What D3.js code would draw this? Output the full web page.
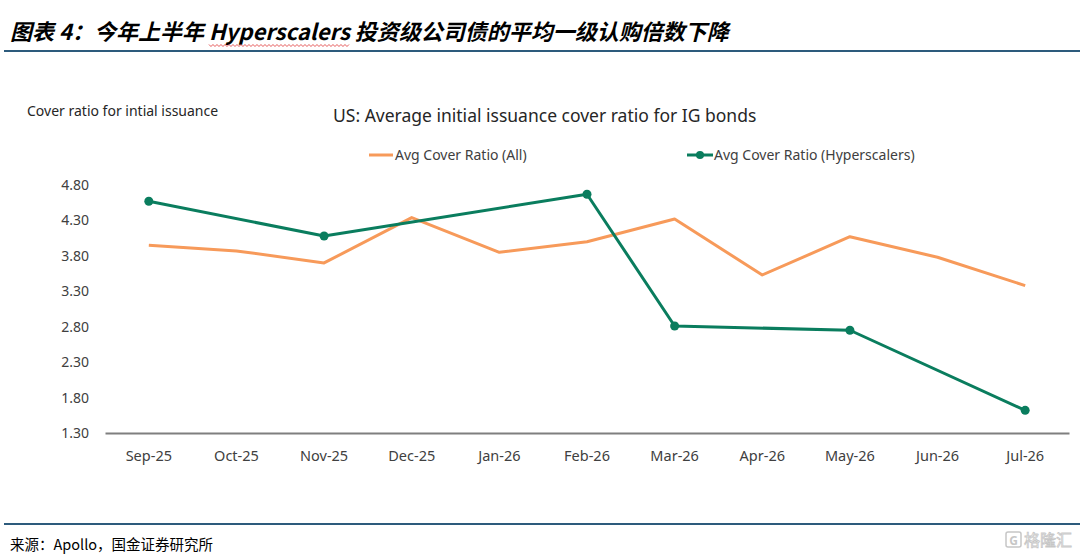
<!DOCTYPE html>
<html>
<head>
<meta charset="utf-8">
<script src="https://cdn.jsdelivr.net/npm/d3@7"></script>
<style>
  body { margin: 0; background: #fff; }
  text { font-family: "Noto Sans", "Open Sans", sans-serif; }
</style>
</head>
<body>
<script>
// chart data
var months = ["Sep-25", "Oct-25", "Nov-25", "Dec-25", "Jan-26", "Feb-26",
              "Mar-26", "Apr-26", "May-26", "Jun-26", "Jul-26"];
var allRatio = [3.95, 3.87, 3.70, 4.34, 3.85, 4.00, 4.32, 3.53, 4.07, 3.78, 3.38];
var hyperRatio = [4.57, null, 4.08, null, null, 4.67, 2.81, null, 2.75, null, 1.62];
var yTicks = [1.30, 1.80, 2.30, 2.80, 3.30, 3.80, 4.30, 4.80];

var w = 1080, h = 556;
var orange = "#f79a5a", green = "#0a7d5e";

var svg = d3.select("body").append("svg")
    .attr("width", w)
    .attr("height", h);

// report title + rule
var title = svg.append("text")
    .attr("x", 10).attr("y", 40)
    .style("font-family", "'Noto Sans CJK SC', sans-serif")
    .style("font-weight", "bold")
    .style("font-style", "italic")
    .style("font-size", "22px")
    .attr("fill", "#000")
    .text("图表 4：今年上半年 Hyperscalers 投资级公司债的平均一级认购倍数下降");

// red spell-check squiggle under "Hyperscalers"
var full = title.text(), word = "Hyperscalers";
var start = full.indexOf(word);
var node = title.node();
var x0 = 10 + node.getSubStringLength(0, start);
var x1 = x0 + node.getSubStringLength(start, word.length);
var wave = [];
for (var x = x0; x <= x1; x += 2) wave.push([x, 45 + ((Math.round((x - x0) / 2) % 2) ? 1.5 : -0.5)]);
svg.append("path")
    .attr("d", d3.line()(wave))
    .attr("fill", "none")
    .attr("stroke", "#e03030")
    .attr("stroke-width", 0.8);

svg.append("line")
    .attr("x1", 4).attr("x2", w).attr("y1", 51).attr("y2", 51)
    .attr("stroke", "#2d5b7c").attr("stroke-width", 2);

// chart texts
svg.append("text")
    .attr("x", 27).attr("y", 116)
    .style("font-size", "14px")
    .attr("fill", "#262626")
    .text("Cover ratio for intial issuance");

svg.append("text")
    .attr("x", 333).attr("y", 122)
    .style("font-size", "17.5px")
    .attr("fill", "#262626")
    .text("US: Average initial issuance cover ratio for IG bonds");

// scales
var x = d3.scaleBand().domain(months).range([105, 1069]);
var y = d3.scaleLinear().domain([1.3, 4.8]).range([433, 185]);
var cx = function(m){ return x(m) + x.bandwidth() / 2; };

// axes
var yAxis = svg.append("g")
    .attr("transform", "translate(105,0)")
    .call(d3.axisLeft(y).tickValues(yTicks).tickFormat(d3.format(".2f")).tickSize(0).tickPadding(16));
yAxis.select(".domain").remove();
yAxis.selectAll("text")
    .style("font-family", "'Noto Sans', sans-serif")
    .style("font-size", "14px")
    .attr("fill", "#404040");

var xAxis = svg.append("g")
    .attr("transform", "translate(0,433)")
    .call(d3.axisBottom(x).tickSize(0).tickSizeOuter(0).tickPadding(18));
xAxis.select(".domain")
    .attr("stroke", "#7f7f7f")
    .attr("stroke-width", 2);
xAxis.selectAll("text")
    .style("font-family", "'Noto Sans', sans-serif")
    .style("font-size", "14.5px")
    .attr("fill", "#404040");

// lines
var line = d3.line()
    .x(function(d){ return cx(d.m); })
    .y(function(d){ return y(d.v); });

var allData = months.map(function(m, i){ return {m: m, v: allRatio[i]}; });
var hyperData = months.map(function(m, i){ return {m: m, v: hyperRatio[i]}; })
    .filter(function(d){ return d.v !== null; });

svg.append("path")
    .datum(allData)
    .attr("d", line)
    .attr("fill", "none")
    .attr("stroke", orange)
    .attr("stroke-width", 3)
    .attr("stroke-linejoin", "round");

svg.append("path")
    .datum(hyperData)
    .attr("d", line)
    .attr("fill", "none")
    .attr("stroke", green)
    .attr("stroke-width", 3)
    .attr("stroke-linejoin", "round");

svg.selectAll(".dot")
    .data(hyperData)
    .enter().append("circle")
    .attr("class", "dot")
    .attr("cx", function(d){ return cx(d.m); })
    .attr("cy", function(d){ return y(d.v); })
    .attr("r", 4.5)
    .attr("fill", green);

// legend
var legend = svg.append("g");
legend.append("line")
    .attr("x1", 369).attr("x2", 393).attr("y1", 155).attr("y2", 155)
    .attr("stroke", orange).attr("stroke-width", 3);
legend.append("text")
    .attr("x", 395).attr("y", 160)
    .style("font-size", "14px").attr("fill", "#404040")
    .text("Avg Cover Ratio (All)");
legend.append("line")
    .attr("x1", 687).attr("x2", 713).attr("y1", 155).attr("y2", 155)
    .attr("stroke", green).attr("stroke-width", 3);
legend.append("circle")
    .attr("cx", 700).attr("cy", 155).attr("r", 4)
    .attr("fill", green);
legend.append("text")
    .attr("x", 714).attr("y", 160)
    .style("font-size", "14px").attr("fill", "#404040")
    .text("Avg Cover Ratio (Hyperscalers)");

// footer rule + source
svg.append("line")
    .attr("x1", 4).attr("x2", w).attr("y1", 524).attr("y2", 524)
    .attr("stroke", "#2d5b7c").attr("stroke-width", 2);

svg.append("text")
    .attr("x", 10).attr("y", 550)
    .style("font-family", "'Noto Sans CJK SC', sans-serif")
    .style("font-size", "14.5px")
    .attr("fill", "#000")
    .text("来源：Apollo，国金证券研究所");

// watermark
var wm = svg.append("g").attr("opacity", 0.55);
wm.append("rect")
    .attr("x", 1006).attr("y", 532).attr("width", 15).attr("height", 15)
    .attr("rx", 2)
    .attr("fill", "none").attr("stroke", "#999").attr("stroke-width", 1.5);
wm.append("text")
    .attr("x", 1013.5).attr("y", 544.5)
    .attr("text-anchor", "middle")
    .style("font-size", "12px").style("font-weight", "bold")
    .attr("fill", "#999")
    .text("G");
wm.append("text")
    .attr("x", 1024).attr("y", 546)
    .style("font-family", "'Noto Sans CJK SC', sans-serif")
    .style("font-size", "16px")
    .attr("fill", "none").attr("stroke", "#999").attr("stroke-width", 0.8)
    .text("格隆汇");
</script>
</body>
</html>
